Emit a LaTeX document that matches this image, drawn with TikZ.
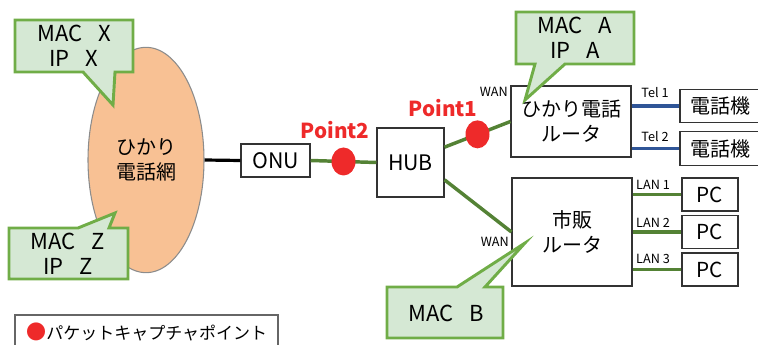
\documentclass[tikz,border=0pt]{standalone}
\usepackage{fontspec}
\newfontfamily\jpfont{Noto Sans CJK JP}
\usetikzlibrary{shapes.geometric}
\definecolor{lgreen}{HTML}{D5E8D4}
\definecolor{cgreen}{HTML}{70AD47}
\definecolor{wgreen}{HTML}{548235}
\definecolor{tblue}{HTML}{2F5597}
\definecolor{pred}{HTML}{EE2A2A}
\definecolor{peach}{HTML}{F8C194}
\begin{document}
\begin{tikzpicture}[x=0.75pt, y=-0.75pt, font=\jpfont\fontsize{15}{18.75}\selectfont,
	box/.style={draw=black!80, fill=white, line width=0.8pt, inner sep=0pt, align=center},
	callout/.style={draw=cgreen, fill=lgreen, line width=2.2pt, line join=miter},
	calltext/.style={align=center, inner sep=0pt, font=\jpfont\fontsize{16.5}{18.75}\selectfont},
	wire/.style={wgreen, line width=2.6pt},
	telwire/.style={tblue, line width=2.6pt},
	port/.style={font=\jpfont\fontsize{9.5}{11}\selectfont, inner sep=0pt},
	capdot/.style={ellipse, fill=pred, minimum width=18pt, minimum height=21pt, inner sep=0pt},
	pointlbl/.style={text=pred, inner sep=0pt, font=\jpfont\bfseries\fontsize{15.5}{18}\selectfont}]
	\useasboundingbox (0,0) rectangle (758,345);
	%network
	\node[ellipse, draw=black!45, fill=peach, line width=0.8pt, minimum width=87pt, minimum height=169pt, align=center] (net) at (146,160) {ひかり\\電話網};
	\node[box, minimum width=51.75pt, minimum height=24.75pt, font=\jpfont\fontsize{16}{18}\selectfont] (onu) at (275.5,160.5) {ONU};
	\node[box, minimum width=50.25pt, minimum height=51.75pt, font=\jpfont\fontsize{16}{18}\selectfont] (hub) at (410.5,162.5) {HUB};
	%routers
	\node[box, minimum width=90pt, minimum height=53.25pt] (rt1) at (571,121.5) {ひかり電話\\ルータ};
	\node[box, minimum width=90pt, minimum height=81pt] (rt2) at (572,232) {市販\\ルータ};
	%terminals
	\foreach \i/\y in {1/106,2/148.5}
	\node[box, minimum width=60pt, minimum height=25pt] (tel\i) at (720,\y) {電話機};
	\foreach \i/\y in {1/194.5,2/232,3/269.5}
	\node[box, minimum width=42pt, minimum height=24.75pt, font=\jpfont\fontsize{15.5}{18}\selectfont] (pc\i) at (710,\y) {PC};
	%wires
	\draw[black, line width=2.4pt] (net.east) -- (onu.west);
	\draw[wire] (onu.east) -- (hub.west) node[pos=.5, capdot] (p2) {};
	\draw[wire] ([yshift=11.5pt]hub.east) -- (rt1.west) node[pos=.5, capdot] (p1) {};
	\draw[wire] ([yshift=-13pt]hub.east) -- (rt2.west);
	\foreach \i in {1,2}
	\draw[telwire] (tel\i.west -| rt1.east) -- (tel\i.west);
	\foreach \i in {1,2,3}
	\draw[wire] (pc\i.west -| rt2.east) -- (pc\i.west);
	%labels
	\node[pointlbl] (lbl2) at (335,130) {Point2};
	\node[pointlbl] (lbl1) at (443,108) {Point1};
	\node[port, anchor=east] (wan1) at (508,92) {WAN};
	\node[port, anchor=east] (wan2) at (509,242) {WAN};
	\node[port] (tl1) at (655,93) {Tel 1};
	\node[port] (tl2) at (655,137) {Tel 2};
	\node[port] (ln1) at (653,185) {LAN 1};
	\node[port] (ln2) at (653,223) {LAN 2};
	\node[port] (ln3) at (653,259) {LAN 3};
	%callouts
	\draw[callout] (15,20) -- (133,20) -- (133,72) -- (115,72) -- (113,105) -- (83,72) -- (15,72) -- cycle;
	\node[calltext] (macx) at (74,46) {MAC\enspace\ X\\IP\enspace\ X};
	\draw[callout] (9,228) -- (78,228) -- (115,213) -- (109,228) -- (128,228) -- (128,279) -- (9,279) -- cycle;
	\node[calltext] (macz) at (68,254) {MAC\enspace\ Z\\IP\enspace\ Z};
	\draw[callout] (516,12) -- (634,12) -- (634,64) -- (565,64) -- (525,100) -- (535,64) -- (516,64) -- cycle;
	\node[calltext] (maca) at (575,38) {MAC\enspace\ A\\IP\enspace\ A};
	\draw[callout] (387,287) -- (457,287) -- (525,243) -- (485,287) -- (503,287) -- (503,338) -- (387,338) -- cycle;
	\node[calltext] (macb) at (446,313) {MAC\enspace\ B};
	%legend
	\draw[black!60, line width=0.8pt] (15,315) rectangle (278,352);
	\node[anchor=west, inner sep=0pt, font=\jpfont\fontsize{12.75}{15}\selectfont] (legend) at (26,332) {\textcolor{pred}{\fontsize{15}{15}\selectfont●}パケットキャプチャポイント};
\end{tikzpicture}
\end{document}
